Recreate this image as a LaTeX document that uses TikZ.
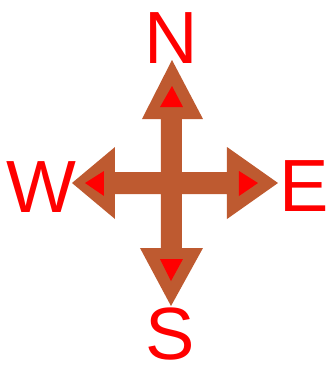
\documentclass[tikz,border=0pt]{standalone}
\usepackage{fontspec}
\setmainfont{Liberation Sans}
\definecolor{CBrown}{HTML}{BE5A30}
\definecolor{CRed}{HTML}{FF0000}
\usetikzlibrary{positioning,calc}
\tikzset{
  crossbody/.style={fill=CBrown,draw=none},
  marker/.style={fill=CRed,draw=none},
  dirlabel/.style={text=CRed,inner sep=0pt,anchor=base,
    font=\fontsize{74}{74}\selectfont}
}
\begin{document}
\begin{tikzpicture}[x=1pt,y=-1pt]
  \useasboundingbox (0,0) rectangle (331,368);
  % letters
  \node[dirlabel] (N) at (171,63) {N};
  \node[dirlabel] (E) at (304,211) {E};
  \node[dirlabel] (S) at (170,359.5) {S};
  \node[dirlabel] (W) at (41.5,212) {W};
  % arrow tips
  \coordinate (tipN) at (172,60);
  \coordinate (tipE) at (278,183);
  \coordinate (tipS) at (171,306);
  \coordinate (tipW) at (72,183);
  % the cross
  \fill[crossbody] (tipN) -- (203,119) -- (182,119) -- (182,172)
    -- (227,172) -- (227,147) -- (tipE) -- (227,219) -- (227,194)
    -- (182,194) -- (182,248) -- (203,248) -- (tipS) -- (140,248)
    -- (161,248) -- (161,194) -- (115,194) -- (115,219) -- (tipW)
    -- (115,147) -- (115,172) -- (161,172) -- (161,119) -- (142,119)
    -- cycle;
  % markers
  \fill[marker] (172,86) -- (183,107) -- (160,107) -- cycle;
  \fill[marker] (258,183) -- (239,171) -- (239,196) -- cycle;
  \fill[marker] (171,281) -- (183,259) -- (160,259) -- cycle;
  \fill[marker] (85,183) -- (104,171) -- (104,196) -- cycle;
\end{tikzpicture}
\end{document}
